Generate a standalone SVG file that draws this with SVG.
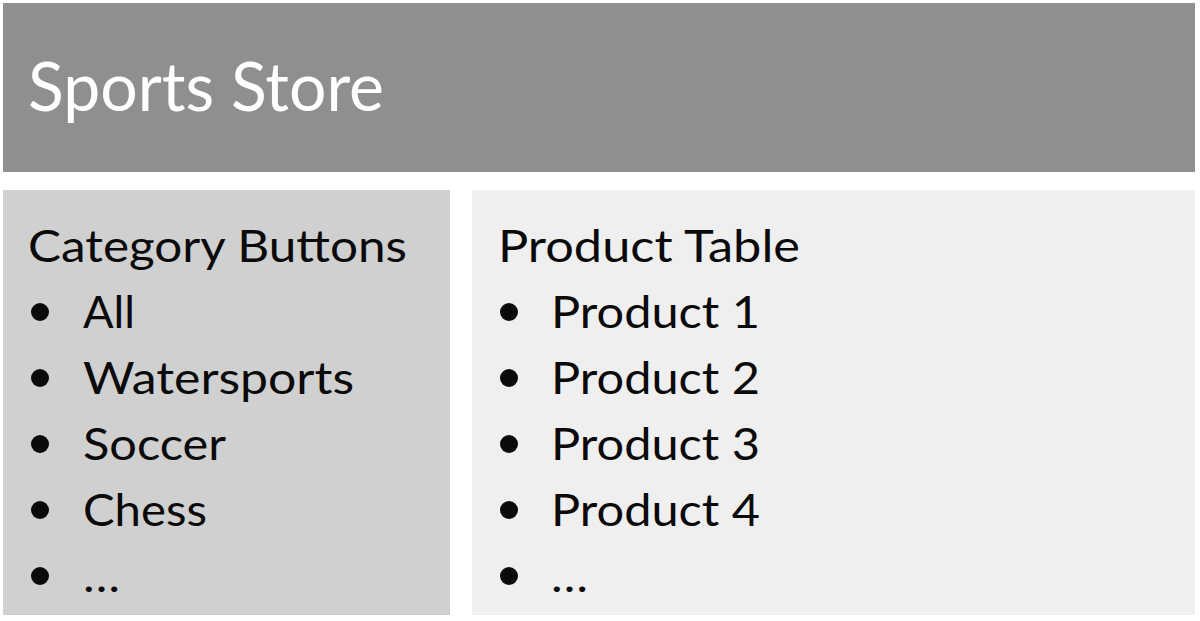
<svg xmlns="http://www.w3.org/2000/svg" width="1200" height="621" viewBox="0 0 1200 621">
<style>
  .t { font-family: Lato, "Open Sans", "Liberation Sans", sans-serif; font-size: 44px; fill: #0a0a0a; }
  .h { font-family: Lato, "Open Sans", "Liberation Sans", sans-serif; font-size: 68px; fill: #ffffff; }
  .b { fill: #0a0a0a; }
</style>
<rect width="1200" height="621" fill="#ffffff"/>
<g id="header">
  <rect x="3" y="3" width="1192" height="169" fill="#8f8f8f"/>
  <text class="h" x="28" y="111" textLength="356" lengthAdjust="spacingAndGlyphs">Sports Store</text>
</g>
<g id="category-buttons">
  <rect x="3" y="190" width="447" height="425" fill="#d0d0d0"/>
  <text class="t" x="28" y="262" textLength="379" lengthAdjust="spacingAndGlyphs">Category Buttons</text>
  <circle class="b" cx="40" cy="312" r="9"/>
  <text class="t" x="83" y="328" textLength="52" lengthAdjust="spacingAndGlyphs">All</text>
  <circle class="b" cx="40" cy="378" r="9"/>
  <text class="t" x="83" y="394" textLength="271" lengthAdjust="spacingAndGlyphs">Watersports</text>
  <circle class="b" cx="40" cy="444" r="9"/>
  <text class="t" x="83" y="460" textLength="143" lengthAdjust="spacingAndGlyphs">Soccer</text>
  <circle class="b" cx="40" cy="510" r="9"/>
  <text class="t" x="83" y="526" textLength="124" lengthAdjust="spacingAndGlyphs">Chess</text>
  <circle class="b" cx="40" cy="576" r="9"/>
  <text class="t" x="83" y="592" textLength="37" lengthAdjust="spacingAndGlyphs">…</text>
</g>
<g id="product-table">
  <rect x="472" y="190" width="723" height="425" fill="#efefef"/>
  <text class="t" x="498" y="262" textLength="302" lengthAdjust="spacingAndGlyphs">Product Table</text>
  <circle class="b" cx="509" cy="312" r="9"/>
  <text class="t" x="551" y="328" textLength="209" lengthAdjust="spacingAndGlyphs">Product 1</text>
  <circle class="b" cx="509" cy="378" r="9"/>
  <text class="t" x="551" y="394" textLength="209" lengthAdjust="spacingAndGlyphs">Product 2</text>
  <circle class="b" cx="509" cy="444" r="9"/>
  <text class="t" x="551" y="460" textLength="209" lengthAdjust="spacingAndGlyphs">Product 3</text>
  <circle class="b" cx="509" cy="510" r="9"/>
  <text class="t" x="551" y="526" textLength="209" lengthAdjust="spacingAndGlyphs">Product 4</text>
  <circle class="b" cx="509" cy="576" r="9"/>
  <text class="t" x="551" y="592" textLength="37" lengthAdjust="spacingAndGlyphs">…</text>
</g>
<g id="connectors"/>
</svg>
